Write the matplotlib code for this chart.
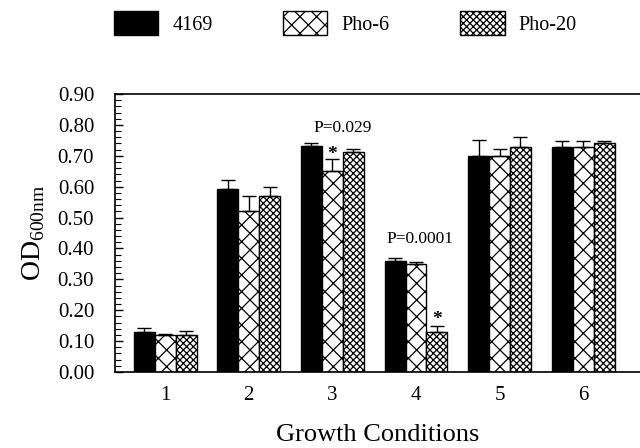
import numpy as np
import matplotlib
matplotlib.use('Agg')
import matplotlib.pyplot as plt

plt.rcParams['font.family'] = ['Liberation Serif', 'DejaVu Serif']
plt.rcParams['mathtext.fontset'] = 'custom'
plt.rcParams['mathtext.rm'] = 'Liberation Serif'
plt.rcParams['hatch.linewidth'] = 0.9

conditions = ['1', '2', '3', '4', '5', '6']
strains = ['4169', 'Pho-6', 'Pho-20']
od_4169 = [0.130, 0.592, 0.732, 0.359, 0.701, 0.730]
od_pho6 = [0.119, 0.520, 0.651, 0.350, 0.701, 0.728]
od_pho20 = [0.121, 0.571, 0.712, 0.129, 0.730, 0.740]
err_4169 = [0.011, 0.031, 0.008, 0.009, 0.050, 0.019]
err_pho6 = [0.003, 0.050, 0.038, 0.006, 0.021, 0.021]
err_pho20 = [0.011, 0.029, 0.010, 0.021, 0.031, 0.009]

fig = plt.figure(figsize=(6.4, 4.48), dpi=100)
ax = fig.add_axes([0.1797, 0.1696, 0.8203, 0.6205])

x = np.arange(1, len(conditions) + 1)
w = 0.25
series = [(od_4169, err_4169, 'black', ''),
          (od_pho6, err_pho6, 'white', 'xx'),
          (od_pho20, err_pho20, 'white', 'xxxxx')]
for i, (vals, errs, fc, hatch) in enumerate(series):
    ax.bar(x + (i - 1) * w, vals, w, color=fc, edgecolor='black', hatch=hatch,
           linewidth=1.0, label=strains[i],
           yerr=[np.zeros(len(errs)), errs],
           error_kw=dict(ecolor='black', elinewidth=1.0, capsize=5, capthick=1.0))

ax.set_xlim(0.40, 6.68)
ax.set_ylim(0, 0.9)
ax.set_yticks(np.arange(0, 0.91, 0.1))
ax.set_yticklabels(['%.2f' % v for v in np.arange(0, 0.91, 0.1)], fontsize=15)
ax.set_yticks(np.arange(0, 0.91, 0.02), minor=True)
ax.tick_params(axis='y', which='major', direction='in', length=6, width=1, pad=15)
ax.tick_params(axis='y', which='minor', direction='in', length=4, width=0.8)
ax.set_xticks(x)
ax.set_xticklabels(conditions, fontsize=15)
ax.tick_params(axis='x', length=0, pad=10)
ax.spines['right'].set_visible(False)
for s in ['top', 'bottom', 'left']:
    ax.spines[s].set_linewidth(1.2)

ax.set_xlabel('Growth Conditions', fontsize=19, labelpad=14)
ax.set_ylabel(r'OD$_{\mathrm{600nm}}$', fontsize=20)
ax.yaxis.set_label_coords(-0.13, 0.5)

ax.text(3.12, 0.79, 'P=0.029', ha='center', va='center', fontsize=12.5, zorder=10)
ax.text(4.05, 0.43, 'P=0.0001', ha='center', va='center', fontsize=12.5, zorder=10)
ax.text(3.0, 0.705, '*', ha='center', va='center', fontsize=14, fontweight='bold', zorder=10)
ax.text(4.25, 0.17, '*', ha='center', va='center', fontsize=14, fontweight='bold', zorder=10)

fig.legend(loc='upper left', bbox_to_anchor=(0.178, 0.975), ncol=3, frameon=False,
           fontsize=14.5, handlelength=2.2, handleheight=1.45, handletextpad=0.7,
           columnspacing=3.5, borderpad=0, borderaxespad=0)

fig.savefig('out.png', dpi=100)
